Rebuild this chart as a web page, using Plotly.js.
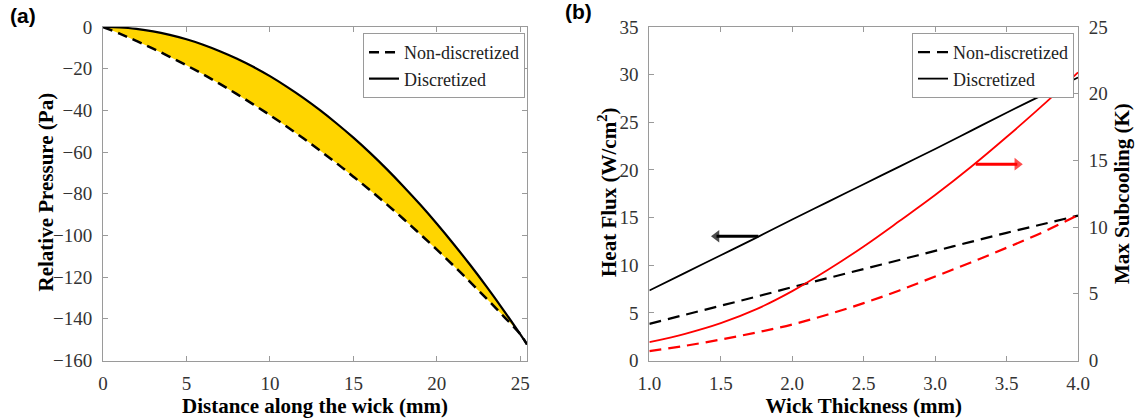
<!DOCTYPE html>
<html>
<head>
<meta charset="utf-8">
<script src="https://cdn.plot.ly/plotly-3.0.1.min.js"></script>
<style>html,body{margin:0;padding:0;background:#fff}#chart{width:1138px;height:419px}</style>
</head>
<body>
<div id="chart"></div>
<script>
// ---- Panel (a): relative pressure along the wick ----
const distX = [0,1,2,3,4,5,6,7,8,9,10,11,12,13,14,15,16,17,18,19,20,21,22,23,24,25,25.4];
const pressNonDisc = [0,-3.2,-6.7,-10.4,-14.3,-18.4,-22.7,-27.3,-32.1,-37.1,-42.3,-47.7,-53.4,-59.3,-65.4,-71.8,-78.3,-85.1,-92.1,-99.4,-106.8,-114.5,-122.4,-130.5,-138.8,-147.4,-152.3];
const pressDisc = [0,-0.24,-0.94,-2.1,-3.8,-5.9,-8.5,-11.6,-15.1,-19.1,-23.6,-28.6,-34.0,-39.9,-46.3,-53.1,-60.4,-68.2,-76.5,-85.2,-94.4,-104.1,-114.2,-124.8,-135.9,-147.5,-152.3];
const xTicksA = [0,5,10,15,20,25];
const yTicksA = [0,-20,-40,-60,-80,-100,-120,-140,-160];

// ---- Panel (b): heat flux & subcooling vs wick thickness ----
const thickX = [1.0,1.25,1.5,1.75,2.0,2.25,2.5,2.75,3.0,3.25,3.5,3.75,4.0];
const fluxNonDisc = [3.85,4.8,5.75,6.7,7.7,8.65,9.6,10.55,11.5,12.45,13.4,14.3,15.2];
const fluxDisc = [7.35,9.2,11.05,12.9,14.8,16.65,18.5,20.35,22.2,24.1,26.0,27.85,29.7];
const subNonDisc = [0.7,1.1,1.57,2.1,2.7,3.45,4.3,5.25,6.3,7.35,8.45,9.6,10.9];
const subDisc = [1.37,2.0,2.8,3.85,5.2,6.8,8.55,10.45,12.4,14.5,16.75,19.1,21.6];
const xTicksB = [1.0,1.5,2.0,2.5,3.0,3.5,4.0];
const seriesNames = ['Non-discretized','Discretized'];
// direction arrows (tail -> head), panel (b), left-axis units
const arrowBlackX = [1.763, 1.47];
const arrowBlackY = [13.04, 13.04];
const arrowRedX = [3.284, 3.575];
const arrowRedY = [20.6, 20.6];

const serif = 'Liberation Serif';
const titleFont = {family: serif, size: 21, color: '#000000', weight: 700};
const axisCol = '#9a9a9a';

function axisBase(extra) {
  return Object.assign({
    showline: true, linecolor: axisCol, linewidth: 1,
    ticks: 'inside', ticklen: 5, tickcolor: axisCol, tickwidth: 1,
    showgrid: false, zeroline: false,
    tickfont: {family: serif, size: 19, color: '#333333'},
    ticklabelstandoff: 6, automargin: false, fixedrange: true
  }, extra);
}

const traces = [
  // yellow band between curves (panel a)
  {x: distX, y: pressNonDisc, xaxis: 'x', yaxis: 'y', mode: 'lines', line: {width: 0, shape: 'spline'}, showlegend: false, hoverinfo: 'skip'},
  {x: distX, y: pressDisc, xaxis: 'x', yaxis: 'y', mode: 'lines', line: {width: 0, shape: 'spline'}, fill: 'tonexty', fillcolor: '#FFD500', showlegend: false, hoverinfo: 'skip'},
  {x: distX, y: pressNonDisc, xaxis: 'x', yaxis: 'y', mode: 'lines', name: seriesNames[0], line: {color: '#000', width: 2.5, dash: '10px,6px', shape: 'spline'}, legend: 'legend'},
  {x: distX, y: pressDisc, xaxis: 'x', yaxis: 'y', mode: 'lines', name: seriesNames[1], line: {color: '#000', width: 2.2, shape: 'spline'}, legend: 'legend'},
  // panel b
  {x: thickX, y: subNonDisc, xaxis: 'x2', yaxis: 'y3', mode: 'lines', line: {color: '#FF0000', width: 2.2, dash: '12px,7px', shape: 'spline'}, showlegend: false},
  {x: thickX, y: subDisc, xaxis: 'x2', yaxis: 'y3', mode: 'lines', line: {color: '#FF0000', width: 1.8, shape: 'spline'}, showlegend: false},
  {x: thickX, y: fluxNonDisc, xaxis: 'x2', yaxis: 'y2', mode: 'lines', name: seriesNames[0], line: {color: '#000', width: 2.2, dash: '12px,7px', shape: 'spline'}, legend: 'legend2'},
  {x: thickX, y: fluxDisc, xaxis: 'x2', yaxis: 'y2', mode: 'lines', name: seriesNames[1], line: {color: '#000', width: 1.8, shape: 'spline'}, legend: 'legend2'},
  // arrows
  {x: arrowBlackX, y: arrowBlackY, xaxis: 'x2', yaxis: 'y2', mode: 'lines+markers', line: {color: '#000', width: 3},
    marker: {symbol: ['circle', 'triangle-left'], size: [0, 11], color: '#000', line: {width: 0}}, showlegend: false, hoverinfo: 'skip'},
  {x: arrowRedX, y: arrowRedY, xaxis: 'x2', yaxis: 'y2', mode: 'lines+markers', line: {color: '#FF0000', width: 3},
    marker: {symbol: ['circle', 'triangle-right'], size: [0, 11], color: '#FF0000', line: {width: 0}}, showlegend: false, hoverinfo: 'skip'}
];

const legendBase = {
  font: {family: serif, size: 18, color: '#222222'},
  bgcolor: '#ffffff', bordercolor: axisCol, borderwidth: 1,
  xanchor: 'left', yanchor: 'top', itemwidth: 30, tracegroupgap: 0,
  traceorder: 'normal'
};

const layout = {
  width: 1138, height: 419,
  margin: {l: 0, r: 0, t: 0, b: 0},
  font: {family: serif, size: 19, color: '#333333'},
  paper_bgcolor: '#fff', plot_bgcolor: '#fff',
  showlegend: true,
  xaxis: axisBase({domain: [0.0905, 0.4631], anchor: 'y', range: [0, 25.4], tickvals: xTicksA, mirror: 'ticks',
    title: {text: 'Distance along the wick (mm)', font: titleFont, standoff: 0}}),
  yaxis: axisBase({domain: [0.1396, 0.9356], anchor: 'x', range: [-160, 0], tickvals: yTicksA, mirror: 'ticks'}),
  xaxis2: axisBase({domain: [0.5706, 0.9473], anchor: 'y2', range: [1, 4], tickvals: xTicksB, tickformat: '.1f', mirror: 'ticks',
    title: {text: 'Wick Thickness (mm)', font: titleFont, standoff: 0}}),
  yaxis2: axisBase({domain: [0.1396, 0.9356], anchor: 'x2', range: [0, 35], dtick: 5}),
  yaxis3: axisBase({domain: [0.1396, 0.9356], anchor: 'x2', overlaying: 'y2', side: 'right', range: [0, 25], dtick: 5}),
  legend: Object.assign({x: 0.3190, y: 0.9212}, legendBase),
  legend2: Object.assign({x: 0.8014, y: 0.9212}, legendBase),
  annotations: [
    {text: '<b>(a)</b>', xref: 'paper', yref: 'paper', x: 0.007, y: 0.995, xanchor: 'left', yanchor: 'top', showarrow: false,
      font: {family: 'Liberation Sans', size: 21, color: '#000'}},
    {text: '<b>(b)</b>', xref: 'paper', yref: 'paper', x: 0.495, y: 1.005, xanchor: 'left', yanchor: 'top', showarrow: false,
      font: {family: 'Liberation Sans', size: 21, color: '#000'}},
    {text: 'Relative Pressure (Pa)', xref: 'paper', yref: 'paper', x: 46 / 1138, y: 1 - 192.5 / 419, textangle: -90,
      xanchor: 'center', yanchor: 'middle', showarrow: false, font: titleFont},
    {text: 'Heat Flux (W/cm<sup>2</sup>)', xref: 'paper', yref: 'paper', x: 607 / 1138, y: 1 - 193 / 419, textangle: -90,
      xanchor: 'center', yanchor: 'middle', showarrow: false, font: titleFont},
    {text: 'Max Subcooling (K)', xref: 'paper', yref: 'paper', x: 1122 / 1138, y: 1 - 194 / 419, textangle: -90,
      xanchor: 'center', yanchor: 'middle', showarrow: false, font: titleFont}
  ]
};

Plotly.newPlot('chart', traces, layout, {displayModeBar: false, staticPlot: true});
</script>
</body>
</html>
